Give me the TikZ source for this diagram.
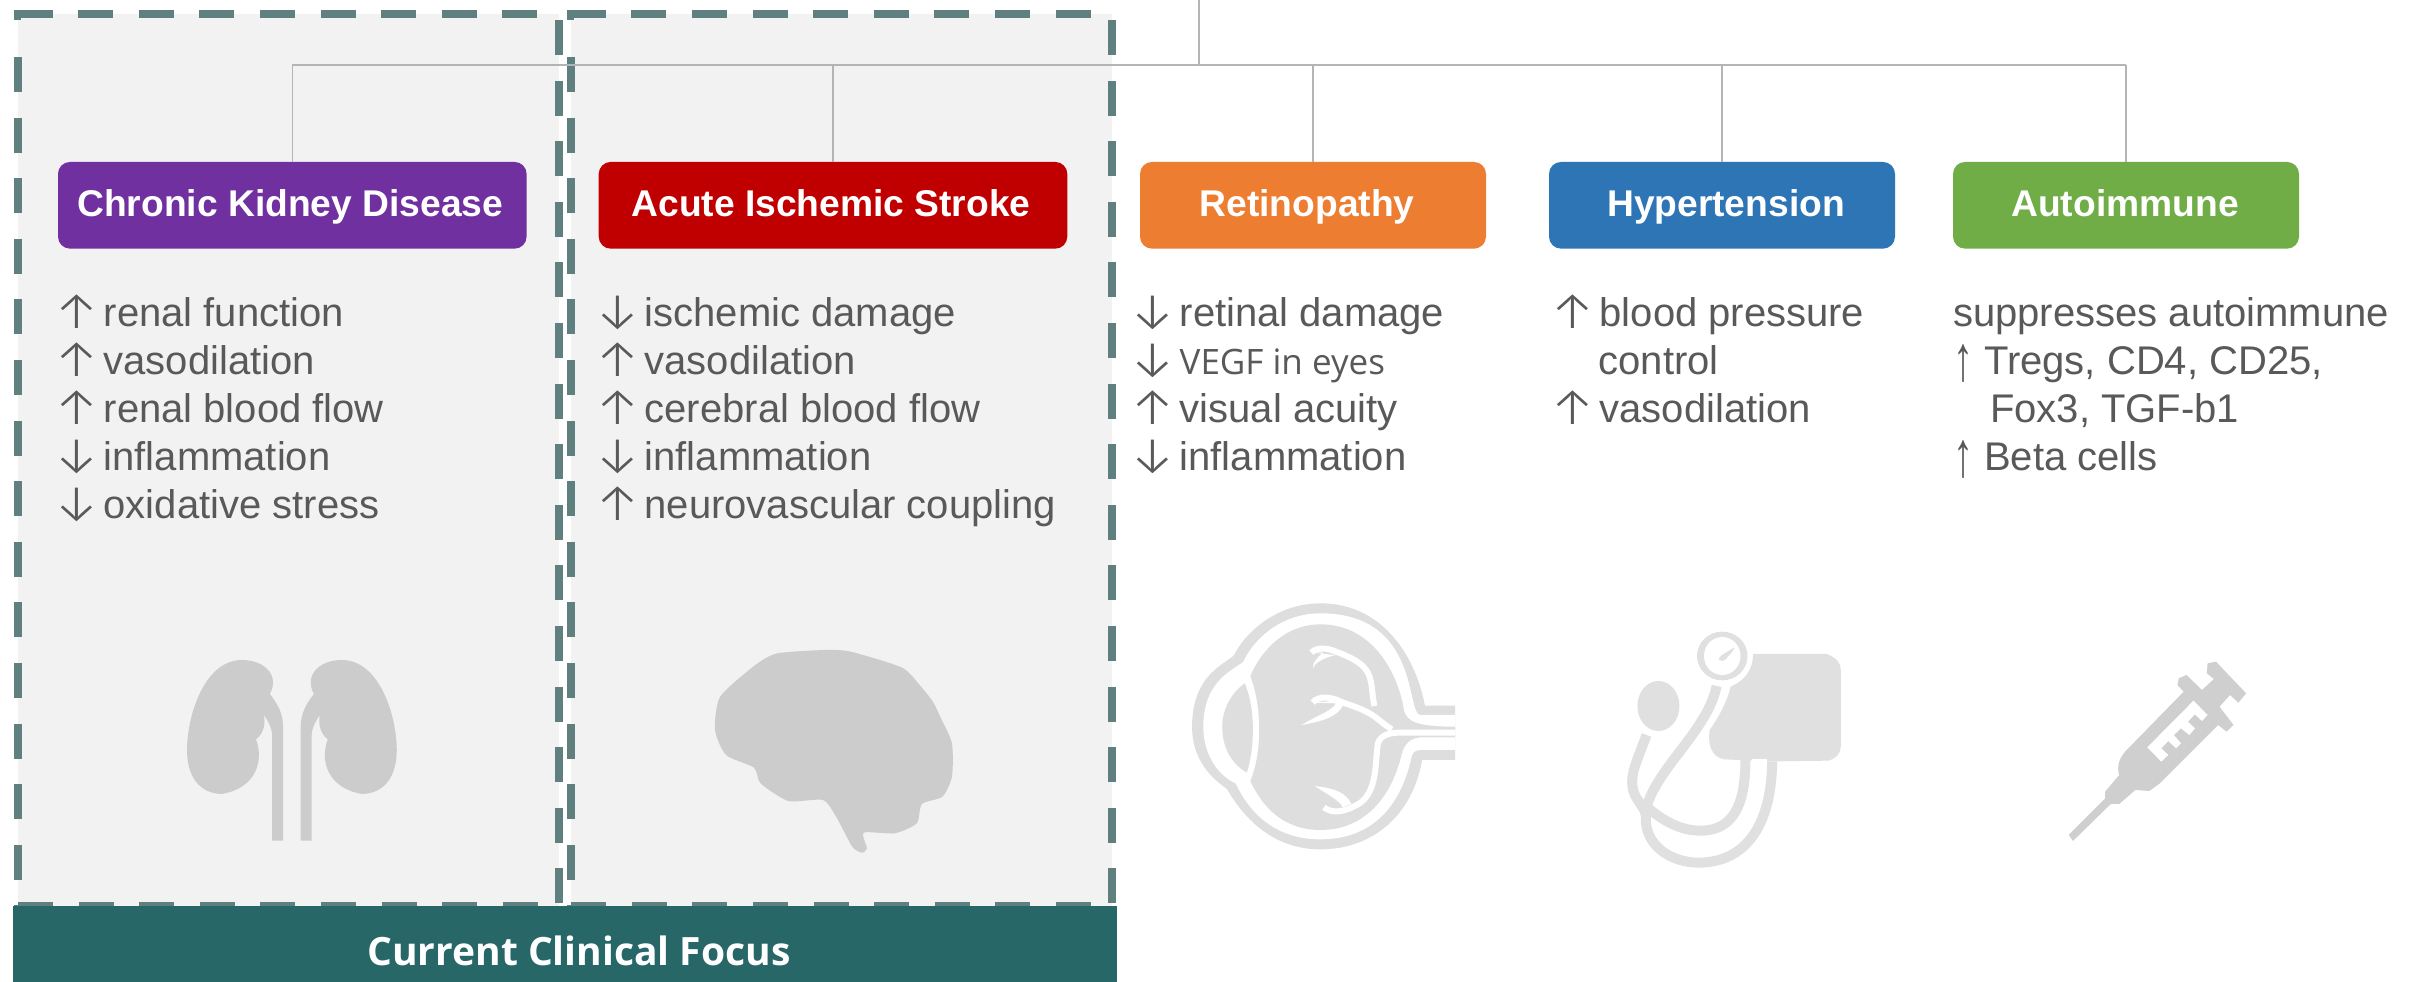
\documentclass[tikz,border=0pt]{standalone}
\usepackage{fontspec}
\setmainfont{Liberation Sans}
\newfontfamily\opensans{Open Sans}
\newfontfamily\arrowfont{Fira Sans}[UprightFont={* Light}]
\usetikzlibrary{calc}
\definecolor{dashc}{HTML}{608080}
\definecolor{panelc}{HTML}{F2F2F2}
\definecolor{bannerc}{HTML}{276767}
\definecolor{linec}{HTML}{B4B4B4}
\definecolor{bodyc}{HTML}{595959}
\definecolor{iconA}{HTML}{CCCCCC}
\definecolor{iconB}{HTML}{DEDEDE}
\definecolor{iconC}{HTML}{E0E0E0}
\definecolor{iconD}{HTML}{CFCFCF}
\definecolor{purplec}{HTML}{7030A0}
\definecolor{redc}{HTML}{C00000}
\definecolor{orangec}{HTML}{ED7D31}
\definecolor{bluec}{HTML}{2E75B6}
\definecolor{greenc}{HTML}{70AD47}
\newcommand\upa{\makebox[43pt][l]{\kern-7pt\raisebox{-2pt}{\arrowfont\fontsize{52}{54}\selectfont ↑}}}
\newcommand\dna{\makebox[43pt][l]{\kern-7pt\raisebox{-2pt}{\arrowfont\fontsize{52}{54}\selectfont ↓}}}
\newcommand\upb{\makebox[29pt][l]{\kern-2pt\raisebox{-6pt}{\scalebox{1}[1.6]{↑}}}}
\tikzset{
  catbox/.style={rounded corners=12pt,inner sep=0pt,minimum width=346pt,minimum height=86.7pt,text=white,
    font=\fontsize{37.2}{40}\selectfont\bfseries,text height=30pt,text depth=8pt},
  widebox/.style={catbox,minimum width=468.6pt},
  body/.style={anchor=base west,inner sep=0pt,text=bodyc,font=\fontsize{40}{48}\selectfont},
  conn/.style={draw=linec,line width=1.5pt},
  bus/.style={draw=linec,line width=2.5pt},
  dashside/.style={draw=dashc,line width=8pt,dash pattern=on 35pt off 25.6pt},
}
\begin{document}
\begin{tikzpicture}[x=1pt,y=-1pt]
\path[use as bounding box,fill=white] (0,0) rectangle (2418,982);
% panels
\foreach \dx in {0,553.2}{
\begin{scope}[xshift=\dx pt]
\fill[panelc] (17.5,14.5) rectangle (559,906);
\draw[dashside] (17.5,14.5) -- (559,14.5);
\draw[dashside] (17.5,57) -- (17.5,906);
\draw[draw=dashc,line width=7.5pt] (17.5,10.5) -- (17.5,20);
\draw[dashside] (559,20) -- (559,906);
\draw[dashside] (18,906) -- (559,906);
\end{scope}}
% banner
\node[fill=bannerc,text=white,inner sep=0pt,minimum width=1104pt,minimum height=76pt,
  font=\opensans\fontsize{39}{42}\selectfont\bfseries,text height=46pt,text depth=3pt] (banner) at (565,944) {\kern28pt Current Clinical Focus};
% boxes
\node[widebox,fill=purplec] (ckd) at (292.3,205.3) {\kern-4pt Chronic Kidney Disease};
\node[widebox,fill=redc] (ais) at (833,205.3) {\kern-4pt Acute Ischemic Stroke};
\node[catbox,fill=orangec] (ret) at (1313,205.3) {\kern-12pt Retinopathy};
\node[catbox,fill=bluec] (hyp) at (1722,205.3) {\kern8pt Hypertension};
\node[catbox,fill=greenc] (aut) at (2126,205.3) {\kern-2pt Autoimmune};
% connectors
\coordinate (top) at (1199,0);
\coordinate (trunk) at (1199,65);
\draw[conn] (top) -- (trunk);
\draw[bus] (ckd.north |- trunk) -- (aut.north |- trunk);
\foreach \b in {ckd,ais,ret,hyp,aut}{\draw[conn] (\b.north |- trunk) -- (\b.north);}
% column 1
\node[body] (a1) at (60.5,326.5) {\upa renal function};
\node[body] (a2) at (60.5,374.7) {\upa vasodilation};
\node[body] (a3) at (60.5,422.9) {\upa renal blood flow};
\node[body] (a4) at (60.5,470.9) {\dna inflammation};
\node[body] (a5) at (60.5,518.5) {\dna oxidative stress};
% column 2
\node[body] (b1) at (601.5,326.5) {\dna ischemic damage};
\node[body] (b2) at (601.5,374.7) {\upa vasodilation};
\node[body] (b3) at (601.5,422.9) {\upa cerebral blood flow};
\node[body] (b4) at (601.5,470.9) {\dna inflammation};
\node[body] (b5) at (601.5,518.5) {\upa neurovascular coupling};
% column 3
\node[body] (c1) at (1136.5,326.5) {\dna retinal damage};
\node[body] (c2) at (1136.5,374.7) {\dna {\opensans\fontsize{35}{48}\selectfont VEGF in eyes}};
\node[body] (c3) at (1136.5,422.9) {\upa visual acuity};
\node[body] (c4) at (1136.5,470.9) {\dna inflammation};
% column 4
\node[body] (d1) at (1556.5,326.5) {\upa blood pressure};
\node[body] (d2) at (1598.5,374.7) {control};
\node[body] (d3) at (1556.5,422.9) {\upa vasodilation};
% column 5
\node[body] (e1) at (1953,326.5) {suppresses autoimmune};
\node[body] (e2) at (1955,374.7) {\upb Tregs, CD4, CD25,};
\node[body] (e3) at (1990,422.9) {Fox3, TGF-b1};
\node[body] (e4) at (1955,470.9) {\upb Beta cells};
% kidneys and brain
\begin{scope}[shift={(0,600)},x=.7334pt,y=-.3333pt]
\foreach \sx/\ox in {1/0,-1/796}{
\begin{scope}[shift={(\ox,0)},xscale=\sx]
\fill[iconA] (330,180) .. controls (360,180) and (382,225) .. (368,282)
  .. controls (380,315) and (386,345) .. (386,380) -- (386,722) -- (371,722) -- (371,405)
  .. controls (371,385) and (366,365) .. (360,345) .. controls (362,370) and (360,400) .. (349,418)
  .. controls (360,480) and (350,565) .. (302,582) .. controls (272,580) and (255,530) .. (255,450)
  .. controls (255,350) and (278,180) .. (330,180) -- cycle;
\end{scope}}
\fill[iconA] plot[smooth cycle,tension=.4] coordinates {(1125,150) (1160,155) (1230,203) (1255,258) (1272,305) (1282,350) (1298,430) (1298,530) (1285,590) (1257,612) (1250,670) (1220,700) (1178,698) (1182,745) (1175,758) (1162,740) (1140,650) (1122,600) (1075,603) (1037,550) (1028,503) (990,465) (975,390) (982,290) (1030,195) (1060,160)};
\end{scope}
% eye
\begin{scope}[shift={(1150,580)},x=.7013pt,y=-.3333pt]
\fill[iconB] (435,377) -- (392,377) .. controls (380,240) and (335,70) .. (243,70)
  .. controls (180,70) and (135,160) .. (120,225) .. controls (110,250) and (60,280) .. (60,440)
  .. controls (60,560) and (100,610) .. (110,628) .. controls (130,700) and (170,808) .. (243,808)
  .. controls (320,808) and (375,700) .. (388,540) -- (435,540) -- cycle;
\fill[white] (435,405) -- (385,405) .. controls (365,400) and (385,100) .. (243,100)
  .. controls (190,100) and (150,170) .. (133,245) .. controls (120,270) and (76,300) .. (76,440)
  .. controls (76,530) and (100,590) .. (122,610) .. controls (140,690) and (175,778) .. (243,778)
  .. controls (330,778) and (362,640) .. (373,530) .. controls (375,515) and (380,510) .. (385,510) -- (435,510) -- cycle;
\fill[iconB] (143,288) .. controls (160,205) and (195,133) .. (243,133)
  .. controls (320,133) and (355,290) .. (362,390) .. controls (366,425) and (380,440) .. (435,440)
  -- (435,453) .. controls (400,453) and (370,452) .. (350,450) -- (345,462) -- (435,463) -- (435,472) -- (385,472)
  .. controls (365,475) and (360,510) .. (358,530) .. controls (345,640) and (310,750) .. (243,750)
  .. controls (190,750) and (160,680) .. (143,603) .. controls (160,520) and (160,380) .. (143,288) -- cycle;
\fill[iconB] (135,310) .. controls (115,340) and (103,390) .. (103,440) .. controls (103,500) and (115,550) .. (138,578)
  .. controls (150,500) and (150,380) .. (135,310) -- cycle;
\draw[white,line width=6pt] (435,458) -- (370,458) .. controls (345,456) and (330,460) .. (325,490)
  .. controls (320,560) and (325,650) .. (290,680) .. controls (270,702) and (255,695) .. (248,682);
\draw[white,line width=6pt] (345,448) .. controls (325,425) and (325,400) .. (275,368) .. controls (260,350) and (240,345) .. (232,368);
\fill[white] (232,368) -- (265,362) -- (277,368) .. controls (270,410) and (245,425) .. (216,435) .. controls (235,410) and (262,390) .. (265,370) -- cycle;
\draw[white,line width=6pt] (320,378) .. controls (312,300) and (325,260) .. (265,215) .. controls (250,200) and (235,205) .. (230,218);
\fill[white] (230,218) -- (265,225) .. controls (245,235) and (235,250) .. (232,265) .. controls (232,245) and (240,230) .. (247,218) -- cycle;
\fill[white] (235,618) .. controls (265,625) and (280,640) .. (287,672) -- (275,682) .. controls (270,660) and (250,640) .. (235,618) -- cycle;
% sphygmomanometer
\fill[iconC] (860,222) -- (965,222) .. controls (980,235) and (985,250) .. (985,270) -- (985,500) .. controls (985,520) and (978,535) .. (968,542)
  -- (895,544) -- (840,540) -- (818,538) .. controls (800,530) and (795,490) .. (798,450)
  .. controls (815,400) and (825,350) .. (828,320) .. controls (850,300) and (860,265) .. (860,222) -- cycle;
\fill[white] (858,538) rectangle (880,548);
\fill[iconC] (816,228) ellipse[x radius=36,y radius=73];
\fill[white] (816,228) ellipse[x radius=26,y radius=57];
\fill[iconC] (811,235) .. controls (815,222) and (825,215) .. (833,202) .. controls (833,215) and (825,225) .. (822,235) .. controls (820,245) and (810,245) .. (811,235) -- cycle;
\fill[iconC] (725,378) ellipse[x radius=30,y radius=75];
\draw[iconC,line width=10pt] (708,465) .. controls (695,540) and (685,580) .. (688,620) .. controls (690,660) and (707,680) .. (707,710)
  .. controls (705,800) and (745,848) .. (782,848) .. controls (860,848) and (887,700) .. (887,544);
\draw[iconC,line width=10pt] (808,318) .. controls (795,450) and (725,560) .. (708,680) .. controls (730,720) and (755,752) .. (785,752)
  .. controls (830,752) and (849,680) .. (849,540);
% syringe
\fill[iconD] (1474,335) -- (1395,505) .. controls (1382,530) and (1378,560) .. (1382,585) -- (1362,635) -- (1362,655) -- (1310,765) -- (1316,783) -- (1370,672) -- (1382,672) -- (1405,630) -- (1425,633) -- (1440,610) -- (1523,435) -- (1535,455) -- (1545,435) -- (1525,380) -- (1540,345) -- (1552,368) -- (1563,340) -- (1520,245) -- (1508,250) -- (1507,280) -- (1517,297) -- (1500,330) -- (1478,285) -- (1467,295) -- (1465,315) -- cycle;
\fill[white] (1488,362) -- (1422,502) -- (1442,545) -- (1452,525) -- (1442,505) -- (1452,483) -- (1463,505) -- (1470,490) -- (1460,465) -- (1470,445) -- (1482,465) -- (1490,445) -- (1480,425) -- (1490,403) -- (1500,423) -- (1508,405) -- cycle;
\end{scope}
\end{tikzpicture}
\end{document}
